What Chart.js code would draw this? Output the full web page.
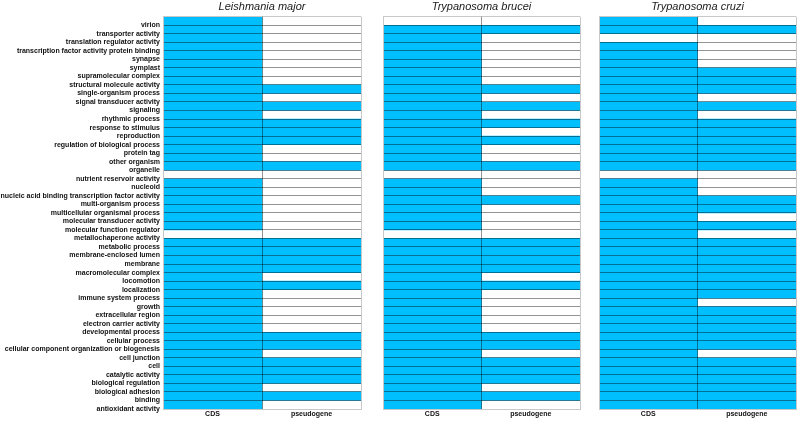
<!DOCTYPE html>
<html><head><meta charset="utf-8">
<script src="https://cdn.jsdelivr.net/npm/chart.js@4.4.1/dist/chart.umd.min.js"></script>
<style>
html,body{margin:0;padding:0;background:#fff;width:800px;height:421px;overflow:hidden;}
canvas{position:absolute;top:0;}
</style></head><body>
<canvas id="c0" width="362" height="421" style="left:0px"></canvas>
<canvas id="c1" width="199" height="421" style="left:382px"></canvas>
<canvas id="c2" width="199" height="421" style="left:598px"></canvas>
<script>
const categories = [
 'virion','transporter activity','translation regulator activity','transcription factor activity protein binding',
 'synapse','symplast','supramolecular complex','structural molecule activity','single-organism process',
 'signal transducer activity','signaling','rhythmic process','response to stimulus','reproduction',
 'regulation of biological process','protein tag','other organism','organelle','nutrient reservoir activity',
 'nucleoid','nucleic acid binding transcription factor activity','multi-organism process',
 'multicellular organismal process','molecular transducer activity','molecular function regulator',
 'metallochaperone activity','metabolic process','membrane-enclosed lumen','membrane','macromolecular complex',
 'locomotion','localization','immune system process','growth','extracellular region','electron carrier activity',
 'developmental process','cellular process','cellular component organization or biogenesis','cell junction',
 'cell','catalytic activity','biological regulation','biological adhesion','binding','antioxidant activity'
];
const columns = ['CDS','pseudogene'];
const panelTitles = ['Leishmania major','Trypanosoma brucei','Trypanosoma cruzi'];

// 1 = present (blue), 0 = absent (white)
const lmCDS    = [1,1,1,1,1,1,1,1,1,1, 1,1,1,1,1,1,1,1,0,1, 1,1,1,1,1,0,1,1,1,1, 1,1,1,1,1,1,1,1,1,1, 1,1,1,1,1,1];
const lmPseudo = [0,0,0,0,0,0,0,0,1,0, 1,0,1,1,1,0,0,1,0,0, 0,0,0,0,0,0,1,1,1,1, 0,1,0,0,0,0,0,1,1,0, 1,1,1,0,1,0];
const tbCDS    = [0,1,1,1,1,1,1,1,1,1, 1,1,1,1,1,1,1,1,0,1, 1,1,1,1,1,0,1,1,1,1, 1,1,1,1,1,1,1,1,1,1, 1,1,1,1,1,1];
const tbPseudo = [0,1,0,0,0,0,0,0,1,0, 1,0,1,0,1,0,0,1,0,0, 0,1,0,0,0,0,1,1,1,1, 0,1,0,0,0,0,0,1,1,0, 1,1,1,0,1,0];
const tcCDS    = [1,1,0,1,1,1,1,1,1,1, 1,1,1,1,1,1,1,1,0,1, 1,1,1,1,1,1,1,1,1,1, 1,1,1,1,1,1,1,1,1,1, 1,1,1,1,1,1];
const tcPseudo = [0,1,0,0,0,0,1,1,1,0, 1,0,1,1,1,1,1,1,0,0, 0,1,1,0,1,0,1,1,1,1, 1,1,1,0,1,1,1,1,1,0, 1,1,1,1,1,1];

const panels = [
  {id:'c0', title:panelTitles[0], series:[lmCDS, lmPseudo], showLabels:true},
  {id:'c1', title:panelTitles[1], series:[tbCDS, tbPseudo], showLabels:false},
  {id:'c2', title:panelTitles[2], series:[tcCDS, tcPseudo], showLabels:false}
];

const BLUE = 'rgb(0,191,255)';
const EDGE = '#c8c8c8';
const INNER = 'rgba(0,0,0,0.42)';
const FONT = '"Liberation Sans", Arial, sans-serif';

panels.forEach(p => {
  const datasets = p.series.map((s, col) => ({
    label: columns[col],
    data: s.map(v => v ? [col, col + 1] : null),
    backgroundColor: BLUE,
    borderWidth: 0,
    borderSkipped: false,
    grouped: false,
    barPercentage: 1,
    categoryPercentage: 1
  }));
  new Chart(document.getElementById(p.id), {
    type: 'bar',
    data: { labels: categories, datasets },
    options: {
      indexAxis: 'y',
      responsive: false,
      animation: false,
      layout: { padding: { top: 0, bottom: 1.6, left: 0, right: 0 } },
      plugins: {
        legend: { display: false },
        tooltip: { enabled: false },
        title: {
          display: true, text: p.title, fullSize: false,
          color: '#1a1a1a',
          font: { family: FONT, size: 11, style: 'italic', weight: 'normal', lineHeight: 1.2 },
          padding: { top: 0, bottom: 3.5 }
        }
      },
      scales: {
        y: {
          type: 'category',
          offset: true,
          afterFit: (scale) => { scale.width = p.showLabels ? 163 : 0; },
          grid: {
            offset: true, drawTicks: false, z: 1, lineWidth: 1,
            color: (ctx) => (ctx.type !== 'tick' || ctx.index === 0) ? EDGE : INNER
          },
          border: { display: true, color: EDGE, width: 1, z: 1 },
          ticks: {
            display: p.showLabels, autoSkip: false, padding: 3,
            labelOffset: 4.28,
            color: '#111',
            font: { family: FONT, size: 7, weight: 'bold', lineHeight: 1.2 }
          }
        },
        x: {
          type: 'linear', min: 0, max: columns.length,
          afterBuildTicks: (scale) => {
            const t = [];
            for (let v = 0; v <= columns.length; v += 0.5) t.push({ value: v });
            scale.ticks = t;
          },
          grid: {
            drawTicks: false, z: 1, lineWidth: 1,
            color: (ctx) => {
              const v = ctx.tick ? ctx.tick.value : 0;
              if (v === 0 || v === columns.length) return EDGE;
              return Number.isInteger(v) ? INNER : 'rgba(0,0,0,0)';
            }
          },
          border: { display: true, color: EDGE, width: 1, z: 1 },
          ticks: {
            autoSkip: false, maxRotation: 0, padding: 1,
            color: '#111',
            font: { family: FONT, size: 7, weight: 'bold', lineHeight: 1.2 },
            callback: (value) => {
              const i = value - 0.5;
              return (Number.isInteger(i) && i >= 0 && i < columns.length) ? columns[i] : '';
            }
          }
        }
      }
    }
  });
});
</script>
</body></html>
